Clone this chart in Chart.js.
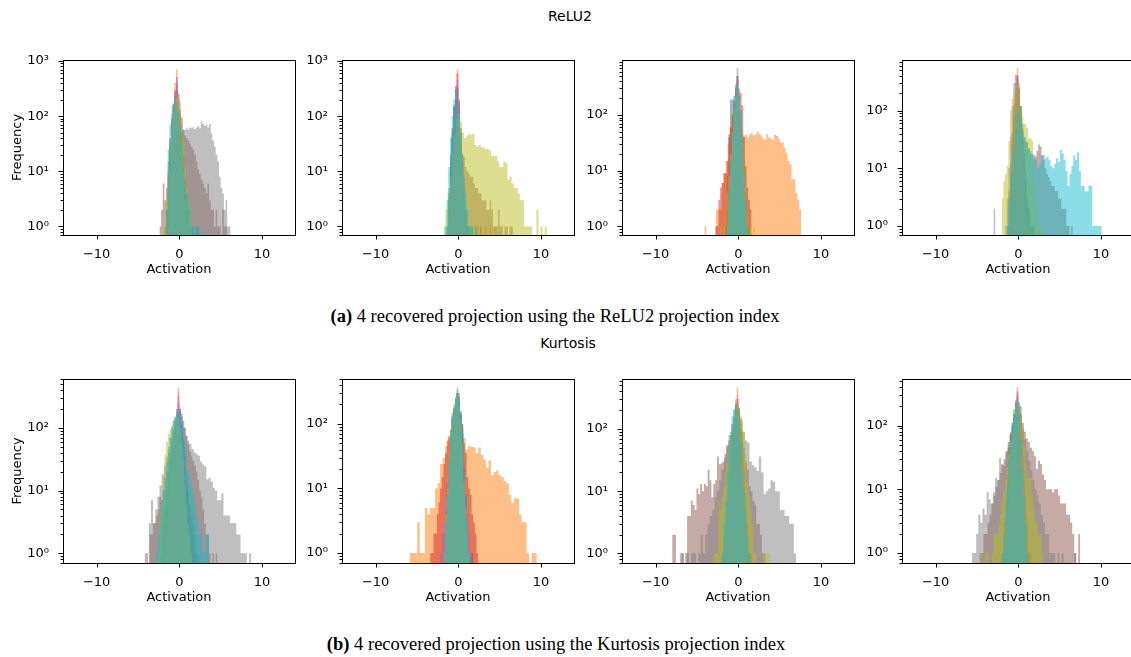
<!DOCTYPE html>
<html>
<head>
<meta charset="utf-8">
<script src="https://cdn.jsdelivr.net/npm/chart.js@4.4.1/dist/chart.umd.min.js"></script>
<style>
  html, body { margin: 0; padding: 0; background: #fff; overflow: hidden; }
  #fig { position: relative; width: 1131px; height: 657px; overflow: hidden; }
  #fig canvas { position: absolute; }
  .title { position: absolute; width: 300px; text-align: center; font: 14px 'DejaVu Sans', sans-serif; line-height: 16px; color: #000; }
  .caption { position: absolute; width: 900px; text-align: center; font: 18.5px 'Liberation Serif', 'Times New Roman', serif; line-height: 22px; color: #000; }
</style>
</head>
<body>
<div id="fig">
  <div class="title" style="left:420px; top:8px">ReLU2</div>
  <div class="caption" style="left:105px; top:305px"><b>(a)</b> 4 recovered projection using the ReLU2 projection index</div>
  <div class="title" style="left:418px; top:335px">Kurtosis</div>
  <div class="caption" style="left:106px; top:633px"><b>(b)</b> 4 recovered projection using the Kurtosis projection index</div>
</div>
<script>
// histogram rows: [first bin edge, bin width, counts], one row per projection in tab10 order
const relu2Proj1 = [
  [-1.6, 0.2, [1,15,40,90,170,230,280,180,90,45,18,7,4,2,1,1]],
  [-1.4, 0.2, [3,20,60,150,400,700,160,60,20,8,3,1]],
  [-1.8, 0.2, [1,2,10,35,80,150,230,300,200,110,50,20,8,4,2,1,1,1,0,1,1]],
  [-1.6, 0.2, [2,8,30,80,160,280,400,220,100,40,12,5,2,1]],
  [-1.4, 0.2, [2,15,50,130,300,520,250,90,25,8,3,1]],
  [-2.4, 0.2, [1,2,6,3,5,8,14,25,45,80,120,150,130,90,55,45,40,36,32,28,24,20,15,11,9,7,6,5,4,6,3,2,2,1,2,1,1,0,2,1,1]],
  [-1.4, 0.2, [1,10,45,120,280,500,260,100,30,10,3,1,1]],
  [-1.6, 0.2, [1,1,3,6,15,30,55,80,90,70,58,56,60,57,62,60,63,58,62,66,60,80,72,66,70,62,72,48,36,28,20,15,8,5,4,2,3,1,1]],
  [-1.8, 0.2, [1,3,12,40,90,150,200,220,250,180,100,40,12,5,3,2,1]],
  [-1.6, 0.2, [2,25,70,110,160,220,180,120,70,30,12,6,4,3,2,1,1,1,0,1,1]]
];
const relu2Proj2 = [
  [-1.2, 0.2, [3,15,50,150,300,330,150,50,15,5,2,1]],
  [-1.0, 0.2, [2,10,40,180,720,200,40,10,3,1,1,0,1,0,0,1,0,0,1,0,0,1,0,0,1,0,0,1]],
  [-1.4, 0.2, [1,4,20,60,160,280,300,130,40,12,4,2,1,1,0,1,0,0,1,0,1]],
  [-1.2, 0.2, [2,10,40,140,350,600,180,50,12,3,1]],
  [-1.2, 0.2, [1,8,35,120,300,450,200,60,15,4,1]],
  [-1.4, 0.2, [1,3,10,40,120,200,150,60,30,21,18,12,10,9,8,8,6,5,5,4,4,3,3,3,2,2,3,2,1,1,1,2,1,1,0,1,1,0,1,1]],
  [-1.2, 0.2, [1,6,30,110,280,420,190,50,12,3,1]],
  [-1.4, 0.2, [1,5,20,60,150,200,320,150,60,20,6,2,1]],
  [-1.8, 0.25, [1,2,4,8,20,45,90,110,80,50,40,44,48,46,48,30,28,30,27,27,25,26,24,19,19,19,15,12,12,15,14,7,8,6,5,5,4,3,3,1,1,1,1,0,0,2,0,1,0,1]],
  [-1.6, 0.2, [1,3,12,42,100,200,260,140,100,50,20,8,4,2,1,1,1,0,1]]
];
const relu2Proj3 = [
  [-1.6, 0.2, [2,8,40,190,190,220,300,180,100,30,8,3,1]],
  [-4.1, 0.234, [1,0,0,0,0,0,2,2,2,6,9,15,30,60,110,160,200,150,80,45,42,44,40,45,47,43,44,50,46,43,38,36,45,40,38,36,44,42,38,32,32,26,21,15,13,7,7,4,3,2]],
  [-1.6, 0.2, [1,2,5,15,40,120,200,400,220,120,40,12,4,2,1]],
  [-2.8, 0.2, [1,1,3,5,6,9,9,15,45,60,100,180,350,500,300,250,150,40,12,5,3,2]],
  [-1.4, 0.2, [2,4,12,40,120,250,450,200,80,20,5,1]],
  [-1.6, 0.2, [1,2,4,10,30,80,180,500,200,90,25,6,2,1,1]],
  [-1.4, 0.2, [1,3,10,35,100,220,420,250,120,30,8,2,1]],
  [-1.2, 0.2, [3,10,40,110,250,690,220,60,15,4,1,1]],
  [-2.2, 0.2, [1,0,1,2,4,8,20,50,120,220,300,200,100,40,12,5,2,1,1,0,1]],
  [-1.4, 0.2, [1,5,15,50,150,300,380,220,120,40,10,3,1]]
];
const relu2Proj4 = [
  [-1.2, 0.2, [2,8,30,90,200,350,250,120,50,20,8,3,2,1,1]],
  [-1.0, 0.2, [2,10,40,150,540,300,100,40,15,5,2,1]],
  [-1.4, 0.2, [1,4,12,40,110,250,300,200,100,40,15,6,3,2,1,1,1]],
  [-1.2, 0.2, [1,6,25,80,200,400,220,90,30,10,3,1]],
  [-3.0, 0.2, [2,0,0,0,0,0,0,1,3,10,35,120,300,420,180,60,15,4,1]],
  [-1.2, 0.2, [1,3,8,25,60,150,200,120,60,35,30,28,22,18,17,15,16,20,26,24,17,14,10,8,7,6,5,5,4,4,3,3,2,2,2,1,1,0,1]],
  [-1.2, 0.2, [2,8,30,90,220,380,240,90,25,8,2,1]],
  [-1.2, 0.2, [3,12,40,130,300,415,150,50,15,4,1]],
  [-2.0, 0.2, [3,6,8,11,30,100,160,200,280,300,200,120,80,60,57,50,33,33,30,6,3,2,1,1,1]],
  [-1.4, 0.23, [1,3,8,20,45,90,110,70,45,35,28,22,20,18,17,14,10,12,16,17,15,16,14,11,10,12,15,13,21,18,14,9,5,8,11,17,14,19,9,5,5,4,4,5,5,1,1,1,1,1]]
];
const kurtProj1 = [
  [-2.2, 0.2, [1,2,5,10,20,35,60,90,130,160,180,130,90,50,25,12,6,3,2,1,1]],
  [-1.8, 0.2, [1,3,8,16,30,55,90,150,430,200,100,50,20,8,4,2,1]],
  [-2.4, 0.2, [1,2,3,5,10,18,30,50,80,110,150,200,170,120,70,35,18,10,6,4,3,2,1,1]],
  [-2.0, 0.2, [1,2,5,10,20,40,70,110,160,250,180,110,60,25,10,4,2,1]],
  [-2.0, 0.2, [1,3,6,12,24,45,80,130,200,320,200,110,50,20,8,3,1]],
  [-4.0, 0.2, [1,0,2,2,3,3,4,5,8,7,10,15,20,30,40,50,70,90,120,150,180,170,130,100,75,55,42,35,30,25,20,15,10,8,5,3,2,2,1,0,1,0,1]],
  [-1.8, 0.2, [2,4,9,20,40,70,120,200,380,210,100,45,18,6,2,1]],
  [-4.2, 0.258, [1,0,3,7,3,5,8,12,18,25,35,50,70,100,140,180,200,150,100,75,63,55,46,40,38,36,29,26,24,15,16,14,11,10,7,7,9,4,4,4,3,3,3,2,2,1,1,1,0,1]],
  [-2.6, 0.2, [1,3,6,16,37,60,80,93,110,130,150,160,140,100,60,30,12,6,3,2,1]],
  [-2.8, 0.2, [1,2,3,6,10,16,28,45,70,100,130,150,170,200,170,130,100,60,23,21,16,12,8,6,4,3,2,2,1,1,2,2]]
];
const kurtProj2 = [
  [-1.8, 0.2, [1,3,10,30,80,130,170,250,280,200,140,70,20,6,2,1,1]],
  [-5.9, 0.308, [1,1,1,3,1,1,5,4,5,5,10,12,24,30,45,60,80,110,140,150,100,60,40,46,44,43,35,43,33,28,21,27,16,18,19,16,15,13,12,8,6,7,7,4,3,3,1,0,1,1]],
  [-1.8, 0.2, [1,3,8,25,70,120,180,240,300,260,150,80,20,8,3,1,1]],
  [-3.4, 0.2, [1,1,2,2,4,6,10,15,24,35,55,65,60,100,150,230,300,200,130,100,50,35,15,10,8,4,3,2,1]],
  [-2.2, 0.2, [1,2,3,6,12,30,70,120,160,220,280,200,130,60,18,8,4,2,1,1]],
  [-2.0, 0.2, [1,2,5,12,30,70,120,170,220,300,220,140,60,18,7,3,2,1,1]],
  [-2.0, 0.2, [1,3,7,15,35,75,130,165,240,290,190,120,40,14,6,3,2,1]],
  [-1.6, 0.2, [2,8,30,80,150,200,260,365,300,160,90,25,6,2,1]],
  [-1.8, 0.2, [1,4,10,30,80,140,170,240,280,190,120,50,12,5,2,1]],
  [-1.8, 0.2, [1,3,8,25,70,130,170,230,330,260,150,80,18,8,3,1,1]]
];
const kurtProj3 = [
  [-1.8, 0.2, [1,2,5,12,25,50,90,160,250,220,120,60,20,8,3,1,1]],
  [-1.8, 0.2, [1,3,8,20,45,100,200,300,470,180,70,25,8,3,1]],
  [-2.0, 0.2, [1,2,4,8,18,40,80,150,230,260,180,100,40,12,5,2,1,1]],
  [-1.8, 0.2, [1,3,7,16,35,70,130,245,300,160,70,25,8,3,1]],
  [-1.8, 0.2, [1,2,6,14,30,65,120,220,280,170,80,30,10,3,1]],
  [-8.0, 0.226, [2,2,0,0,0,1,0,1,4,4,7,6,5,11,9,13,10,13,12,22,15,8,13,15,36,27,28,30,40,52,65,79,110,150,180,200,150,90,50,30,22,12,10,7,6,3,3,2,1,1]],
  [-1.8, 0.2, [1,3,8,18,40,80,150,250,350,180,75,25,8,2,1]],
  [-7.1, 0.282, [1,1,0,1,0,1,1,0,1,2,1,2,3,4,5,8,10,15,22,35,55,80,120,160,200,220,140,90,65,60,30,26,24,21,36,20,9,10,11,15,14,10,10,5,5,4,4,3,3,1]],
  [-3.0, 0.2, [1,1,1,7,5,8,12,20,30,45,70,100,140,200,260,220,160,130,90,40,14,8,5,3,1,1,0,0,0,0,1,1,1,1]],
  [-2.0, 0.2, [1,3,7,20,45,90,160,210,260,200,130,60,20,10,5,2,1]]
];
const kurtProj4 = [
  [-1.8, 0.2, [1,3,8,20,45,90,150,230,260,230,200,60,20,8,3,1,1]],
  [-1.8, 0.2, [1,2,6,15,35,70,130,220,330,200,90,35,12,4,1]],
  [-2.0, 0.2, [1,3,7,16,49,80,112,180,250,240,140,55,20,8,3,1,1]],
  [-1.8, 0.2, [1,2,6,15,35,70,130,220,300,180,80,30,10,3,1]],
  [-1.8, 0.2, [1,2,5,12,30,60,120,210,350,200,90,35,12,4,1]],
  [-4.7, 0.244, [1,1,2,2,3,4,6,8,11,14,18,24,30,40,55,75,100,140,170,180,150,110,80,63,55,45,40,33,21,28,25,17,14,10,10,10,9,10,10,8,6,6,6,4,4,3,2,1,0,2]],
  [-1.8, 0.2, [1,2,5,12,28,60,120,220,400,200,85,30,10,3,1]],
  [-5.6, 0.252, [1,1,2,4,3,5,4,9,7,6,9,15,14,31,25,23,38,45,70,100,140,180,200,140,90,60,40,28,20,14,10,8,6,4,3,2,2,1,1,1,0,1,0,1,0,0,0,0,0,1]],
  [-4.6, 0.2, [1,0,0,1,1,0,0,1,2,2,2,3,4,6,9,14,22,35,55,85,130,190,250,200,140,90,50,25,15,15,15,8,5,3,3,2,2,1]],
  [-2.0, 0.2, [1,2,5,12,30,60,110,150,220,260,150,60,22,8,3,1]]
];

const panels = [relu2Proj1, relu2Proj2, relu2Proj3, relu2Proj4, kurtProj1, kurtProj2, kurtProj3, kurtProj4];
const yLimits = [[0.72, 1050], [0.72, 1050], [0.71, 980], [0.716, 760], [0.74, 605], [0.746, 500], [0.738, 640], [0.745, 540]];
const xLimits = [-14.07, 14.0];
const xTicks = [-10, 0, 10];
const yTicks = [1, 10, 100, 1000];

const tab10 = ['31,119,180', '255,127,14', '44,160,44', '214,39,40', '148,103,189',
               '140,86,75', '227,119,194', '127,127,127', '188,189,34', '23,190,207'];

// plot area geometry (px)
const colLeft = [63, 342, 622, 902];
const rowTop = [56, 375];
const rowHeight = [179, 188];
const axisW = 62, padTop = 10, padRight = 6, axisH = 42;

Chart.defaults.font.family = "'DejaVu Sans', sans-serif";
Chart.defaults.font.size = 13;
Chart.defaults.color = '#000';

const sup = { '-1': '\u207b\u00b9', '0': '\u2070', '1': '\u00b9', '2': '\u00b2', '3': '\u00b3' };

// spines plus matplotlib-style major/minor tick marks
const frame = {
  id: 'frame',
  afterDraw(chart) {
    const { ctx, chartArea: a, scales: { x, y } } = chart;
    ctx.save();
    ctx.strokeStyle = '#000';
    ctx.lineWidth = 1;
    ctx.beginPath();
    for (const v of xTicks) {
      const px = Math.round(x.getPixelForValue(v)) + 0.5;
      ctx.moveTo(px, a.bottom);
      ctx.lineTo(px, a.bottom + 4.5);
    }
    for (let e = -1; e <= 3; e++) {
      for (let m = 1; m < 10; m++) {
        const v = m * Math.pow(10, e);
        if (v < y.min || v > y.max) continue;
        const py = Math.round(y.getPixelForValue(v)) + 0.5;
        ctx.moveTo(a.left, py);
        ctx.lineTo(a.left - (m === 1 ? 4.5 : 2.5), py);
      }
    }
    ctx.stroke();
    ctx.strokeRect(Math.round(a.left) + 0.5, Math.round(a.top) + 0.5,
                   Math.round(a.right - a.left), Math.round(a.bottom - a.top));
    ctx.restore();
  }
};

function histDataset(row, i, floor) {
  const [lo, w, counts] = row;
  const pts = counts.map((c, k) => ({ x: lo + k * w, y: c || floor }));
  pts.push({ x: lo + counts.length * w, y: counts[counts.length - 1] || floor });
  return {
    data: pts,
    backgroundColor: 'rgba(' + tab10[i] + ',0.5)',
    borderWidth: 0,
    pointRadius: 0,
    stepped: 'before',
    fill: 'start',
    order: 10 - i
  };
}

const fig = document.getElementById('fig');
panels.forEach((rows, p) => {
  const r = Math.floor(p / 4), c = p % 4;
  const canvas = document.createElement('canvas');
  const w = axisW + 232 + padRight, h = padTop + rowHeight[r] + axisH;
  canvas.width = w; canvas.height = h;
  canvas.style.left = (colLeft[c] - axisW) + 'px';
  canvas.style.top = (rowTop[r] - padTop) + 'px';
  fig.appendChild(canvas);

  const [yMin, yMax] = yLimits[p];
  new Chart(canvas, {
    type: 'line',
    data: { datasets: rows.map((row, i) => histDataset(row, i, yMin / 10)) },
    options: {
      responsive: false,
      animation: false,
      events: [],
      layout: { padding: { top: padTop, right: padRight, left: 0, bottom: 0 } },
      plugins: { legend: { display: false }, tooltip: { enabled: false } },
      scales: {
        x: {
          type: 'linear', min: xLimits[0], max: xLimits[1],
          grid: { display: false }, border: { display: false },
          ticks: { padding: 4, autoSkip: false, maxRotation: 0,
                   callback: v => v < 0 ? '\u2212' + (-v) : String(v) },
          title: { display: true, text: 'Activation', padding: 0 },
          afterBuildTicks: s => { s.ticks = xTicks.map(v => ({ value: v })); },
          afterFit: s => { s.height = axisH; }
        },
        y: {
          type: 'logarithmic', min: yMin, max: yMax,
          grid: { display: false }, border: { display: false },
          ticks: { padding: 6, autoSkip: false,
                   callback: v => '10' + sup[String(Math.round(Math.log10(v)))] },
          title: { display: c === 0, text: 'Frequency', padding: { top: 9, bottom: 0 } },
          afterBuildTicks: s => { s.ticks = yTicks.filter(v => v >= s.min && v <= s.max).map(v => ({ value: v })); },
          afterFit: s => { s.width = axisW; }
        }
      }
    },
    plugins: [frame]
  });
});
</script>
</body>
</html>
